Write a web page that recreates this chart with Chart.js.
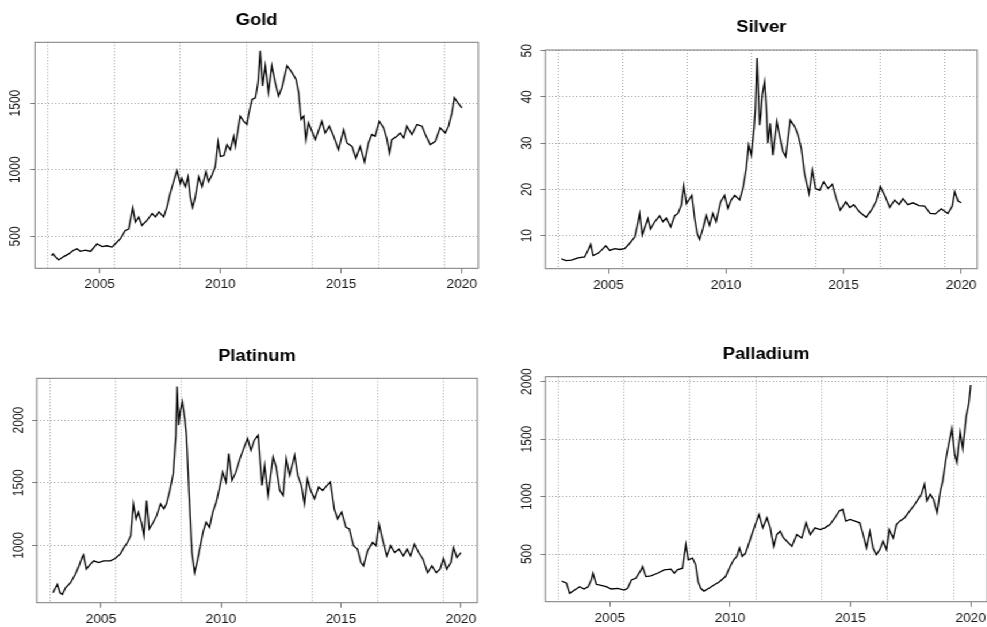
<!DOCTYPE html>
<html>
<head>
<meta charset="utf-8">
<title>Precious metals, 2003-2020</title>
<script src="https://cdn.jsdelivr.net/npm/chart.js@4.4.1/dist/chart.umd.min.js"></script>
<style>
  html, body { margin: 0; padding: 0; background: #fff; width: 987px; height: 627px; overflow: hidden; }
  /* the whole sheet is drawn a little narrow and widened horizontally */
  #sheet { position: absolute; left: 0; top: 0; width: 862px; height: 627px;
           transform: scaleX(1.15); transform-origin: 0 0; }
  #sheet canvas { position: absolute; }
</style>
</head>
<body>
<div id="sheet">
  <canvas id="gold"      width="430" height="312" style="left:0px;top:0px"></canvas>
  <canvas id="silver"    width="432" height="312" style="left:430px;top:0px"></canvas>
  <canvas id="platinum"  width="430" height="315" style="left:0px;top:312px"></canvas>
  <canvas id="palladium" width="432" height="315" style="left:430px;top:312px"></canvas>
</div>
<script>
// ---- price series (decimal year, USD per troy ounce) ----
const goldYears = [2003.00,2003.07,2003.18,2003.30,2003.51,2003.72,2003.90,2004.06,2004.20,2004.41,2004.62,2004.89,2005.10,2005.30,2005.51,2005.65,2005.86,2006.06,2006.20,2006.37,2006.48,2006.62,2006.75,2006.96,2007.17,2007.31,2007.45,2007.65,2007.79,2007.90,2008.06,2008.20,2008.34,2008.40,2008.55,2008.66,2008.75,2008.85,2008.96,2009.10,2009.24,2009.40,2009.51,2009.65,2009.79,2009.90,2010.00,2010.15,2010.27,2010.41,2010.55,2010.62,2010.82,2010.96,2011.10,2011.17,2011.31,2011.45,2011.56,2011.65,2011.75,2011.86,2011.99,2012.13,2012.27,2012.41,2012.55,2012.76,2012.96,2013.13,2013.24,2013.34,2013.45,2013.54,2013.65,2013.79,2013.93,2014.20,2014.34,2014.51,2014.69,2014.89,2015.10,2015.24,2015.45,2015.61,2015.79,2015.97,2016.13,2016.27,2016.41,2016.58,2016.76,2016.90,2017.00,2017.10,2017.31,2017.45,2017.59,2017.72,2017.93,2018.14,2018.35,2018.49,2018.69,2018.90,2019.10,2019.31,2019.45,2019.59,2019.69,2019.83,2020.00];
const goldPrices = [356,369,345,324,349,369,395,407,389,397,388,445,424,430,420,445,483,545,555,715,608,646,583,621,672,646,684,646,722,810,911,994,898,936,873,948,797,718,797,948,873,986,911,961,1024,1210,1100,1107,1188,1150,1251,1175,1402,1365,1340,1415,1528,1540,1654,1893,1629,1780,1579,1780,1654,1553,1617,1780,1730,1679,1579,1377,1402,1226,1352,1289,1226,1364,1276,1327,1252,1150,1300,1201,1175,1087,1175,1057,1201,1264,1252,1364,1314,1226,1125,1226,1252,1276,1239,1327,1264,1339,1327,1264,1188,1213,1314,1276,1327,1428,1541,1503,1465];

const silverYears = [2003.00,2003.20,2003.43,2003.71,2003.99,2004.13,2004.25,2004.35,2004.56,2004.70,2004.89,2005.06,2005.27,2005.48,2005.69,2005.90,2006.12,2006.23,2006.33,2006.44,2006.53,2006.68,2006.79,2006.97,2007.18,2007.32,2007.46,2007.65,2007.82,2007.96,2008.10,2008.20,2008.32,2008.42,2008.55,2008.67,2008.78,2008.88,2009.02,2009.16,2009.30,2009.44,2009.58,2009.77,2009.94,2010.08,2010.22,2010.37,2010.58,2010.72,2010.86,2010.96,2011.08,2011.19,2011.25,2011.32,2011.43,2011.48,2011.54,2011.64,2011.71,2011.78,2011.88,2011.99,2012.16,2012.27,2012.42,2012.54,2012.73,2012.92,2013.06,2013.20,2013.34,2013.53,2013.67,2013.81,2013.98,2014.15,2014.34,2014.52,2014.69,2014.86,2015.09,2015.26,2015.43,2015.68,2015.96,2016.18,2016.39,2016.56,2016.75,2016.96,2017.17,2017.36,2017.52,2017.73,2017.95,2018.20,2018.44,2018.68,2018.90,2019.15,2019.43,2019.62,2019.72,2019.86,2020.00];
const silverPrices = [5.0,4.6,4.7,5.2,5.4,6.8,8.1,5.7,6.2,6.8,7.8,6.8,7.2,7.0,7.2,8.3,9.7,12.2,14.8,10.1,11.5,13.7,11.4,13.0,14.3,13.0,13.8,11.9,14.3,14.8,16.6,20.8,16.9,17.7,18.7,13.7,10.4,9.2,11.5,14.4,12.2,14.8,13.0,17.3,18.7,15.9,17.7,18.7,17.7,20.2,24.5,29.6,27.4,33.2,37.5,48.4,33.9,36.1,40.4,43.3,38.3,30.0,34.3,27.4,34.7,31.8,28.2,27.1,35.0,33.6,31.8,28.9,23.4,19.1,24.2,20.2,19.8,21.6,20.2,21.1,18.0,15.5,17.3,16.1,16.7,15.1,14.0,15.5,17.5,20.6,18.7,16.1,17.7,16.7,18.0,16.7,17.1,16.5,16.4,14.8,14.7,15.8,14.8,16.4,19.5,17.5,17.1];

const platinumYears = [2003.00,2003.18,2003.29,2003.39,2003.52,2003.73,2003.93,2004.08,2004.21,2004.27,2004.39,2004.56,2004.70,2004.90,2005.11,2005.39,2005.59,2005.80,2005.96,2006.10,2006.24,2006.35,2006.46,2006.56,2006.70,2006.79,2006.90,2007.01,2007.18,2007.32,2007.48,2007.62,2007.73,2007.87,2008.01,2008.12,2008.17,2008.24,2008.30,2008.39,2008.49,2008.56,2008.63,2008.70,2008.79,2008.90,2009.00,2009.11,2009.25,2009.38,2009.52,2009.66,2009.80,2009.93,2010.07,2010.21,2010.32,2010.46,2010.62,2010.79,2010.97,2011.11,2011.25,2011.39,2011.55,2011.71,2011.82,2011.96,2012.17,2012.30,2012.45,2012.59,2012.72,2012.86,2013.07,2013.20,2013.35,2013.48,2013.60,2013.74,2013.90,2014.07,2014.24,2014.42,2014.56,2014.72,2014.86,2015.03,2015.21,2015.35,2015.52,2015.69,2015.83,2015.94,2016.11,2016.32,2016.46,2016.59,2016.73,2016.91,2017.07,2017.24,2017.42,2017.60,2017.76,2017.90,2018.06,2018.24,2018.42,2018.61,2018.79,2018.97,2019.13,2019.27,2019.41,2019.58,2019.69,2019.83,2020.00];
const platinumPrices = [623,690,623,610,663,703,771,837,904,925,811,851,878,864,878,878,896,931,984,1024,1078,1332,1212,1266,1172,1078,1358,1132,1185,1238,1332,1292,1332,1439,1573,1880,2267,1960,2067,2147,2014,1880,1585,1292,944,783,864,971,1105,1185,1145,1266,1345,1452,1585,1506,1733,1519,1585,1693,1786,1853,1759,1840,1880,1479,1639,1399,1706,1626,1439,1399,1693,1559,1720,1559,1479,1332,1532,1439,1372,1466,1439,1479,1506,1292,1212,1266,1145,1132,998,971,864,837,958,1024,998,1172,1051,917,998,944,971,917,971,917,1011,944,891,783,837,783,811,896,811,864,984,904,944];

const palladiumYears = [2003.00,2003.20,2003.33,2003.54,2003.75,2003.93,2004.10,2004.23,2004.30,2004.44,2004.64,2004.85,2005.06,2005.33,2005.60,2005.74,2005.90,2006.08,2006.30,2006.36,2006.50,2006.71,2006.98,2007.26,2007.54,2007.68,2007.81,2008.02,2008.16,2008.26,2008.44,2008.57,2008.67,2008.78,2008.91,2009.12,2009.33,2009.53,2009.81,2010.00,2010.15,2010.28,2010.39,2010.50,2010.64,2010.81,2010.95,2011.10,2011.20,2011.36,2011.53,2011.67,2011.81,2011.94,2012.08,2012.22,2012.36,2012.57,2012.77,2012.98,2013.16,2013.33,2013.53,2013.74,2013.94,2014.15,2014.36,2014.54,2014.68,2014.81,2014.98,2015.19,2015.39,2015.53,2015.67,2015.81,2015.94,2016.08,2016.22,2016.36,2016.50,2016.61,2016.78,2016.91,2017.05,2017.26,2017.46,2017.63,2017.77,2017.95,2018.08,2018.18,2018.32,2018.45,2018.60,2018.74,2018.84,2018.98,2019.12,2019.22,2019.33,2019.42,2019.56,2019.67,2019.81,2019.92,2020.00];
const palladiumPrices = [266,246,158,187,216,196,216,275,333,237,228,216,196,202,187,202,275,289,362,391,304,310,333,362,368,333,362,377,582,450,465,406,260,202,178,202,231,254,304,391,450,479,553,479,508,611,698,786,845,728,816,728,567,669,698,640,611,567,669,640,772,669,728,713,728,757,816,874,889,786,801,786,772,669,553,698,553,494,538,611,538,713,640,757,786,816,874,918,962,1020,1108,962,1020,977,860,1050,1137,1342,1488,1590,1371,1298,1561,1415,1693,1810,1970];

// ---- axis ticks ----
const yearTicks = [2005, 2010, 2015, 2020];
const goldTicks = [500, 1000, 1500];
const silverTicks = [10, 20, 30, 40, 50];
const platinumTicks = [1000, 1500, 2000];
const palladiumTicks = [500, 1000, 1500, 2000];
// vertical guide lines sit on round day counts since 1970-01-01
const guideDays = [12000, 13000, 14000, 15000, 16000, 17000, 18000];

// ---- drawing ----
const FONT = '"Liberation Sans", Arial, Helvetica, sans-serif';
const AXIS_GREY = '#7a7a7a';
const GRID_GREY = '#a0a0a0';
const LABEL = '#151515';

// axis range padded by 4% on each side
function padded(values) {
  const lo = Math.min(...values), hi = Math.max(...values);
  const pad = (hi - lo) * 0.04;
  return [lo - pad, hi + pad];
}

// box drawn around the plotting region
const frame = {
  id: 'frame',
  afterDatasetsDraw(chart) {
    const { ctx, chartArea: a } = chart;
    ctx.save();
    ctx.strokeStyle = AXIS_GREY;
    ctx.lineWidth = 1;
    ctx.strokeRect(a.left, a.top, a.right - a.left, a.bottom - a.top);
    ctx.restore();
  }
};

function panel(id, title, years, prices, yTicks, box) {
  const [xMin, xMax] = padded(years);
  const [yMin, yMax] = padded(prices);
  const guides = guideDays.map(d => 1970 + d / 365.2425);
  new Chart(document.getElementById(id), {
    type: 'line',
    data: {
      datasets: [{
        data: years.map((x, i) => ({ x, y: prices[i] })),
        borderColor: '#000',
        borderWidth: 1.3,
        pointRadius: 0,
        tension: 0
      }]
    },
    plugins: [frame],
    options: {
      responsive: false,
      animation: false,
      devicePixelRatio: 1,
      layout: { padding: { left: 0, top: 0, right: box.padRight, bottom: 0 } },
      plugins: {
        legend: { display: false },
        tooltip: { enabled: false },
        title: {
          display: true, text: title, fullSize: false, color: '#000',
          font: { family: FONT, size: 16, weight: 'bold' },
          padding: { top: box.titleTop, bottom: box.titleBottom }
        }
      },
      scales: {
        x: {
          type: 'linear', position: 'bottom', min: xMin, max: xMax,
          afterBuildTicks: s => { s.ticks = yearTicks.map(v => ({ value: v })); },
          afterFit: s => { s.height = box.xAxis; },
          ticks: { callback: v => String(v), color: LABEL, font: { family: FONT, size: 12 },
                   padding: 4.4, maxRotation: 0, autoSkip: false },
          grid: { drawOnChartArea: false, drawTicks: true, tickLength: 5, tickColor: AXIS_GREY },
          border: { display: false }
        },
        guides: {
          type: 'linear', position: 'bottom', min: xMin, max: xMax,
          afterBuildTicks: s => { s.ticks = guides.map(v => ({ value: v })); },
          afterFit: s => { s.height = 0; },
          ticks: { display: false },
          grid: { drawTicks: false, color: GRID_GREY, lineWidth: 1 },
          border: { display: false, dash: [1, 2] }
        },
        y: {
          type: 'linear', min: yMin, max: yMax,
          afterBuildTicks: s => { s.ticks = yTicks.map(v => ({ value: v })); },
          afterFit: s => { s.width = box.yAxis; },
          ticks: { callback: v => String(v), color: LABEL, font: { family: FONT, size: 12 },
                   minRotation: 90, maxRotation: 90, crossAlign: 'center',
                   padding: box.yPad, autoSkip: false },
          grid: { color: GRID_GREY, lineWidth: 1, tickLength: 4, tickColor: AXIS_GREY },
          border: { display: false, dash: [1, 2] }
        }
      }
    }
  });
}

panel('gold', 'Gold', goldYears, goldPrices, goldTicks,
      { yAxis: 30.4, padRight: 14.1, xAxis: 43.7, titleTop: 11, titleBottom: 12.1, yPad: -0.9 });
panel('silver', 'Silver', silverYears, silverPrices, silverTicks,
      { yAxis: 44.2, padRight: 12.2, xAxis: 43.3, titleTop: 18.4, titleBottom: 12.4, yPad: 4.6 });
panel('platinum', 'Platinum', platinumYears, platinumPrices, platinumTicks,
      { yAxis: 31.9, padRight: 15, xAxis: 24.3, titleTop: 35.4, titleBottom: 11.7, yPad: -2.0 });
panel('palladium', 'Palladium', palladiumYears, palladiumPrices, palladiumTicks,
      { yAxis: 44.2, padRight: 1.6, xAxis: 25.3, titleTop: 33.4, titleBottom: 12.1, yPad: -1.9 });
</script>
</body>
</html>
